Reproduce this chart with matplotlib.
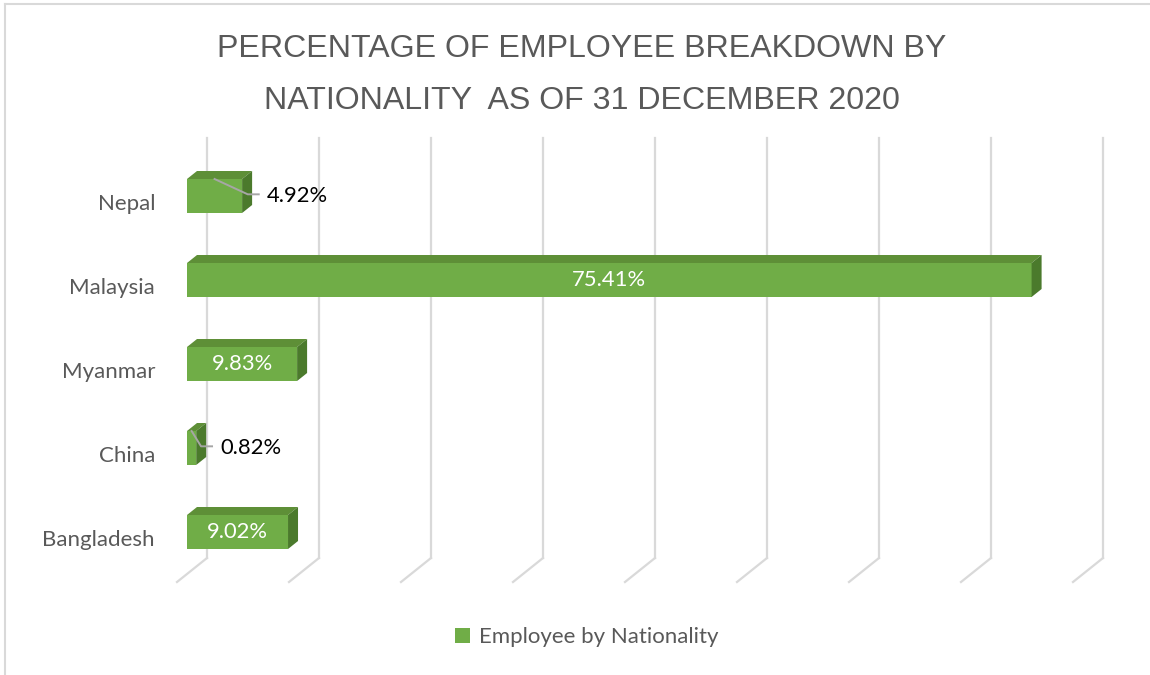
import numpy as np
import matplotlib.pyplot as plt
from matplotlib.patches import Polygon
from matplotlib.lines import Line2D

# data
countries = ["Nepal", "Malaysia", "Myanmar", "China", "Bangladesh"]
shares = [4.92, 75.41, 9.83, 0.82, 9.02]
inside_label = [False, True, True, False, True]
grid_ticks = np.arange(0, 81, 10)

front = "#70AD47"
top_c = "#5E8F37"
side_c = "#4B7A2C"
grid_c = "#D9D9D9"
text_c = "#595959"

W, H = 1150, 675
fig = plt.figure(figsize=(W / 100, H / 100), dpi=100)

# pixel scale of the plot area
px_x = 11.2   # pixels per 1 %
px_y = 84.0   # pixels per category
left_px, top_px, bottom_px = 187, 138, 558
xmax = 82
ax = fig.add_axes([left_px / W, 1 - bottom_px / H, xmax * px_x / W, (bottom_px - top_px) / H])
ymin = -(bottom_px - 532) / px_y
ymax = ymin + (bottom_px - top_px) / px_y
ax.set_xlim(0, xmax)
ax.set_ylim(ymin, ymax)
ax.axis("off")

ypos = np.arange(len(countries))[::-1]
h = 34 / px_y
dx, dy = 10 / px_x, 8 / px_y

# back wall grid lines + floor diagonals
back = 20 / px_x
for g in grid_ticks:
    ax.plot([g + back, g + back], [ymin, ymax], color=grid_c, lw=1.6, zorder=1, clip_on=False)
    ax.plot([g + back, g - 10 / px_x], [ymin, ymin - 24 / px_y], color=grid_c, lw=1.6,
            zorder=1, clip_on=False)

# 3d-looking bars
ax.barh(ypos, shares, height=h, color=front, zorder=3, label="Employee by Nationality")
for y, v in zip(ypos, shares):
    t = y + h / 2
    b = y - h / 2
    ax.add_patch(Polygon([(0, t), (v, t), (v + dx, t + dy), (dx, t + dy)],
                         closed=True, color=top_c, zorder=3, lw=0))
    ax.add_patch(Polygon([(v, b), (v, t), (v + dx, t + dy), (v + dx, b + dy)],
                         closed=True, color=side_c, zorder=3, lw=0))

# value labels
for y, v, inside in zip(ypos, shares, inside_label):
    if inside:
        ax.text(v / 2, y, f"{v:.2f}%", color="white", ha="center", va="center",
                fontsize=15.8, family="Lato", zorder=5)
    else:
        lx = v + 2.2 if v > 3 else v + 2.13
        ax.plot([v / 2, lx - 19 / px_x, lx - 8 / px_x], [y + h / 2, y + 0.02, y + 0.02],
                color="#A6A6A6", lw=1.4, zorder=4, clip_on=False)
        ax.text(lx, y, f"{v:.2f}%", color="black", ha="left", va="center",
                fontsize=15.8, family="Lato", zorder=5)

# category labels
for y, name in zip(ypos, countries):
    ax.text(-32 / px_x, y - 0.1, name, ha="right", va="center", color=text_c,
            fontsize=16, family="Lato", clip_on=False)

fig.text(0.506, 0.889, "PERCENTAGE OF EMPLOYEE BREAKDOWN BY\nNATIONALITY  AS OF 31 DECEMBER 2020",
         ha="center", va="center", color=text_c, fontsize=23.1, family="Liberation Sans",
         linespacing=1.95)

fig.legend(loc="center", bbox_to_anchor=(0.51, 0.056), frameon=False, handlelength=0.7,
           handleheight=0.7, handletextpad=0.4,
           prop={"family": "Lato", "size": 16}, labelcolor=text_c)

# chart frame (left and top edges)
fig.add_artist(Line2D([5 / W, 5 / W], [0, 1 - 4 / H], color=grid_c, lw=1.5))
fig.add_artist(Line2D([5 / W, 1], [1 - 4 / H, 1 - 4 / H], color=grid_c, lw=1.5))

fig.savefig("out.png", dpi=100)
